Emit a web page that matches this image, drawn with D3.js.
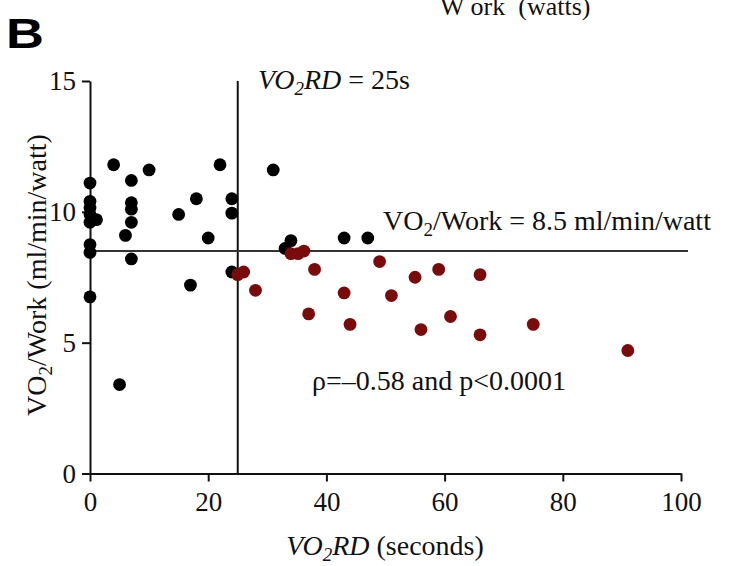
<!DOCTYPE html>
<html>
<head>
<meta charset="utf-8">
<script src="https://cdn.jsdelivr.net/npm/d3@7"></script>
<style>
  html, body { margin: 0; padding: 0; background: #fff; }
  svg { display: block; }
  text { font-family: "Liberation Serif", "Times New Roman", serif; fill: #111; }
</style>
</head>
<body>
<svg id="chart" width="730" height="566"></svg>
<script>
// VO2 response delay (s) and VO2/Work (ml/min/watt) per subject
const normalX = [0, 0, 0, 0, 0, 0, 0, 0, 1.1, 4, 5, 6, 7, 7, 7, 7, 7, 10, 15, 17, 18, 20, 22, 24, 24, 24, 31, 33, 34, 43, 47];
const normalY = [11.1, 10.4, 10.15, 9.9, 9.6, 8.75, 8.45, 6.75, 9.7, 11.8, 3.4, 9.1, 11.2, 10.35, 10.1, 9.6, 8.2, 11.6, 9.9, 7.2, 10.5, 9.0, 11.8, 10.5, 9.95, 7.7, 11.6, 8.6, 8.9, 9.0, 9.0];

const delayedX = [25, 26, 28, 34, 35.2, 36.2, 37, 38, 43, 44, 49, 51, 55, 56, 59, 61, 66, 66, 75, 91];
const delayedY = [7.6, 7.7, 7.0, 8.4, 8.4, 8.5, 6.1, 7.8, 6.9, 5.7, 8.1, 6.8, 7.5, 5.5, 7.8, 6.0, 7.6, 5.3, 5.7, 4.7];

const xTicks = [0, 20, 40, 60, 80, 100];
const yTicks = [0, 5, 10, 15];

const cutoffDelay = 25;   // s
const cutoffRatio = 8.5;  // ml/min/watt

const svg = d3.select("#chart");

const x = d3.scaleLinear().domain([0, 100]).range([90, 681]);
const y = d3.scaleLinear().domain([0, 15]).range([473.5, 81]);

// panel letter
svg.append("text")
  .attr("transform", "translate(6,48) scale(1.25,1)")
  .style("font-family", "'Liberation Sans', Arial, sans-serif")
  .style("font-weight", "bold")
  .style("font-size", "42px")
  .style("fill", "#000")
  .text("B");

// axis title of the panel above, cut by the top edge
svg.append("text")
  .attr("x", 440).attr("y", 15)
  .style("font-size", "26px")
  .style("white-space", "pre")
  .text("W ork  (watts)");

// axes
const xAxis = svg.append("g")
  .attr("transform", `translate(0,${y(0)})`)
  .call(d3.axisBottom(x).tickValues(xTicks).tickSize(8).tickSizeOuter(0).tickPadding(10));
const yAxis = svg.append("g")
  .attr("transform", `translate(${x(0)},0)`)
  .call(d3.axisLeft(y).tickValues(yTicks).tickSize(8).tickSizeOuter(0).tickPadding(6));

[xAxis, yAxis].forEach(g => {
  g.select(".domain").attr("stroke", "#111").attr("stroke-width", 2);
  g.selectAll(".tick line").attr("stroke", "#111").attr("stroke-width", 2);
  g.selectAll(".tick text")
    .style("font-family", "'Liberation Serif', 'Times New Roman', serif")
    .style("font-size", "27px")
    .attr("fill", "#111");
});

// threshold lines
svg.append("line")
  .attr("x1", x(cutoffDelay)).attr("x2", x(cutoffDelay))
  .attr("y1", y(15)).attr("y2", y(0))
  .attr("stroke", "#111").attr("stroke-width", 2);
svg.append("line")
  .attr("x1", x(0)).attr("x2", x(100) + 7)
  .attr("y1", y(cutoffRatio)).attr("y2", y(cutoffRatio))
  .attr("stroke", "#333").attr("stroke-width", 2);

// points
const r = 6.4;
svg.append("g").selectAll("circle")
  .data(d3.zip(normalX, normalY))
  .join("circle")
  .attr("cx", d => x(d[0])).attr("cy", d => y(d[1])).attr("r", r)
  .attr("fill", "#000");
svg.append("g").selectAll("circle")
  .data(d3.zip(delayedX, delayedY))
  .join("circle")
  .attr("cx", d => x(d[0])).attr("cy", d => y(d[1])).attr("r", r)
  .attr("fill", "#7a0b0b");

// annotations
const t1 = svg.append("text").attr("x", 258).attr("y", 89).style("font-size", "28px");
t1.append("tspan").style("font-style", "italic").text("VO");
t1.append("tspan").style("font-style", "italic").style("font-size", "19px").attr("dy", 6).text("2");
t1.append("tspan").style("font-style", "italic").attr("dy", -6).text("RD");
t1.append("tspan").text(" = " + cutoffDelay + "s");

const t2 = svg.append("text").attr("x", 383).attr("y", 230).style("font-size", "28px");
t2.append("tspan").text("VO");
t2.append("tspan").style("font-size", "19px").attr("dy", 6).text("2");
t2.append("tspan").attr("dy", -6).text("/Work = " + cutoffRatio + " ml/min/watt");

svg.append("text").attr("x", 312).attr("y", 390).style("font-size", "28px")
  .text("ρ=\u20130.58 and p<0.0001");

// axis titles
const xt = svg.append("text").attr("x", 385).attr("y", 555)
  .attr("text-anchor", "middle").style("font-size", "28px");
xt.append("tspan").style("font-style", "italic").text("VO");
xt.append("tspan").style("font-style", "italic").style("font-size", "19px").attr("dy", 6).text("2");
xt.append("tspan").style("font-style", "italic").attr("dy", -6).text("RD");
xt.append("tspan").text(" (seconds)");

const yt = svg.append("text")
  .attr("transform", "translate(46,275) rotate(-90)")
  .attr("text-anchor", "middle").style("font-size", "28px");
yt.append("tspan").text("VO");
yt.append("tspan").style("font-size", "19px").attr("dy", 6).text("2");
yt.append("tspan").attr("dy", -6).text("/Work (ml/min/watt)");
</script>
</body>
</html>
